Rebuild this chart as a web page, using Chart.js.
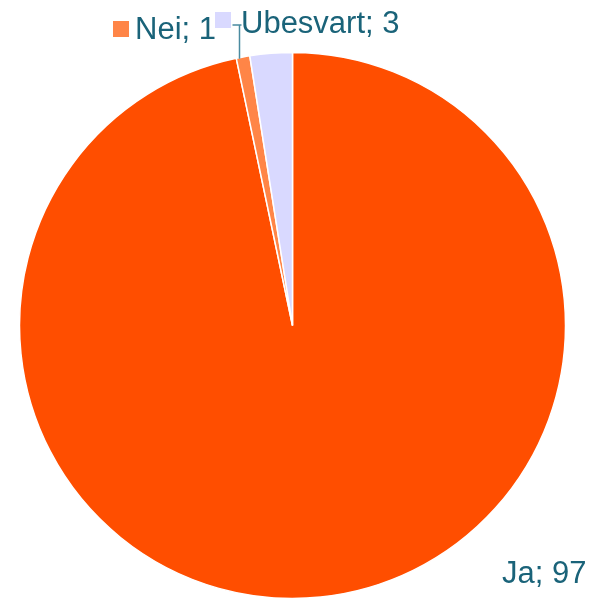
<!DOCTYPE html>
<html>
<head>
<meta charset="utf-8">
<script src="https://cdn.jsdelivr.net/npm/chart.js@4"></script>
<style>
  html, body { margin: 0; padding: 0; background: #ffffff; }
  #wrap { width: 593px; height: 598px; position: relative; }
</style>
</head>
<body>
<div id="wrap"><canvas id="chart" width="593" height="598"></canvas></div>
<script>
const categories = ["Ja", "Nei", "Ubesvart"];
const values = [96.7, 0.8, 2.5];
const colors = ["#ff4e00", "#ff8547", "#d9d9ff"];

const textColor = "#1a6379";
const fontLabel = "31px 'Liberation Sans', Arial, sans-serif";

// label placement, Excel-style best fit
const labelPlaces = [
  { x: 502, y: 583, box: false },
  { x: 135, y: 39, box: true, boxX: 113, boxY: 21 },
  { x: 241, y: 33, box: true, boxX: 215, boxY: 12, leader: true }
];

const labelPlugin = {
  id: "pieLabels",
  afterDraw(chart) {
    const ctx = chart.ctx;
    const arcs = chart.getDatasetMeta(0).data;
    ctx.save();
    ctx.font = fontLabel;
    ctx.textBaseline = "alphabetic";
    ctx.textAlign = "left";

    labelPlaces.forEach((place, i) => {
      const text = `${categories[i]}; ${Math.round(values[i])}`;

      if (place.box) {
        ctx.fillStyle = colors[i];
        ctx.fillRect(place.boxX, place.boxY, 16, 16);
      }

      if (place.leader) {
        // leader down to the edge of the small slice
        const arc = arcs[1];
        const lx = place.x - 1.5;
        const dx = lx - arc.x;
        const edgeY = arc.y - Math.sqrt(arc.outerRadius * arc.outerRadius - dx * dx);
        ctx.strokeStyle = "#4a8ba0";
        ctx.lineWidth = 1.5;
        ctx.beginPath();
        ctx.moveTo(lx, edgeY + 1);
        ctx.lineTo(lx, 25);
        ctx.lineTo(lx - 7, 25);
        ctx.moveTo(lx, 25);
        ctx.lineTo(lx + 2, 25);
        ctx.stroke();
      }

      ctx.fillStyle = textColor;
      ctx.fillText(text, place.x, place.y);
    });

    ctx.restore();
  }
};

new Chart(document.getElementById("chart"), {
  type: "pie",
  data: {
    labels: categories,
    datasets: [
      {
        data: values,
        backgroundColor: colors,
        borderColor: "#ffffff",
        borderWidth: 1.5,
        hoverBorderWidth: 1.5,
        hoverOffset: 0
      }
    ]
  },
  options: {
    responsive: false,
    animation: false,
    radius: 273,
    layout: {
      padding: { left: 20, top: 53, right: 28, bottom: 0 }
    },
    plugins: {
      legend: { display: false },
      tooltip: { enabled: false }
    }
  },
  plugins: [labelPlugin]
});
</script>
</body>
</html>
